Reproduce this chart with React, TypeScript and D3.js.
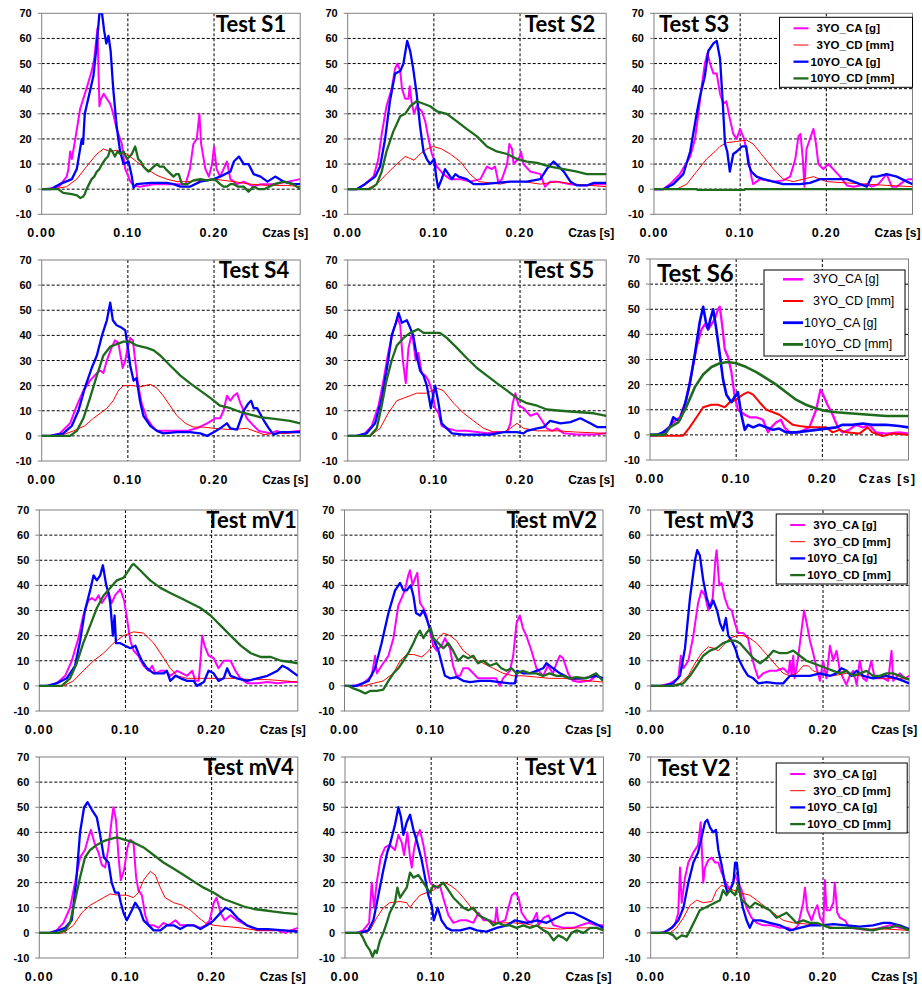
import React from 'react';
import * as d3 from 'd3';

type Pt = [number, number]; // [czas w ms, wartość]

// ---- Test S1 ----
const s1CA3: Pt[] = [[0,0],[15,0.5],[20,1],[29,5],[31,8],[33,15],[35,12],[39,20],[44.6,32],[52,40],[58,47],[61,52],[64.7,64],[67,33],[69,36],[72,38],[75.6,36],[79.5,34],[83,30],[87,24],[93,18],[97,8],[103,3],[106.6,1.5],[114,1],[130,2],[145,2],[161,2],[167,2],[172,8],[176,18],[180,20],[183,30],[185,18],[190,8],[194,5],[197.7,10],[200,17],[203,8],[207,5],[211,8],[215,11],[219,4],[226.7,2],[234.5,3],[240,2],[246,1],[254,2],[270,2],[286,3],[300,4]];
const s1CD3: Pt[] = [[0,0],[13.5,0],[29,1],[40.7,4],[52,9],[64,14],[71.7,16],[79.5,15],[87,15.5],[98.8,14],[110,11],[122,8],[133.7,5.5],[145,4],[157,3],[168.6,3],[184,3.5],[200,4],[223,3],[242,2],[262,1.5],[285,1.5],[300,1]];
const s1CA10: Pt[] = [[0,0],[10,0],[21,2],[35,4],[40.7,8],[46.5,20],[48,18],[50,30],[54,36],[60,45],[64,58],[67,70],[70,70],[72.5,63],[75,58],[77.5,61],[80,55],[83,40],[87,25],[91,15],[95,10],[100.8,11],[104.6,5],[106.6,0.5],[110,2],[126,2.5],[145,2.5],[153,2],[161,1],[172,1],[184,3],[199.6,4],[207,5],[219,7],[223,11],[229,13],[234.5,10],[240,10],[246,6],[254,5],[262,3],[271,5],[281,3],[292,2],[300,2]];
const s1CD10: Pt[] = [[0,0],[19,0],[25,-1.5],[35,-2],[41,-2.5],[44.6,-3.5],[48,-3],[50,-2],[52,0],[55,2],[58,4],[61,5],[64,7],[67,8],[70,10],[74,12],[77,13],[79.5,16],[82,15],[85,13],[88,15],[91,14],[95,15],[99,12],[102,13],[104.6,14],[108.5,17],[112,12],[115,11],[118,9],[121,8],[124,7],[127,8],[130,9],[133.7,10],[137,9],[141.5,9],[144,8],[147,7],[150,6],[153,5],[156,6],[159,6],[162.8,2],[168.6,2],[176,3.5],[184,4],[192,3.5],[200,4],[204,3],[207,2],[211,1],[215,1],[219,2],[223,2],[228,1],[234.5,1],[240,-1],[243,0],[246,1],[252,0],[258,0],[264,1],[270,2],[281,3],[292,2],[300,0]];

// ---- Test S2 ----
const s2CA3: Pt[] = [[0,0],[10.5,0],[20,2],[30,5],[35.6,12],[39.5,22],[45,33],[51,40],[55,48],[57.8,50],[61,47],[63,40],[66.7,36],[70.5,36],[72,41],[74,35],[77,30],[80,33],[86,31],[90,27],[93.8,20],[97.7,14],[103.5,9],[111,6],[119,4],[130.6,4],[142,3],[154,4],[161.6,9],[167,8],[171,9],[175,2.5],[179,4],[185,10],[187.6,18],[190.7,16],[192.6,10],[200,13],[201,15],[204,10],[212,7],[223.6,6],[229,1],[235,3],[243,3],[258,2],[274,1.5],[289,2],[300,2]];
const s2CD3: Pt[] = [[0,0],[22,0],[33.7,2],[45,6],[57,10],[66.7,13],[70.5,12.5],[77,11.5],[84,14],[91.8,16],[99.6,17],[109,16],[119,14],[130.6,11],[142,6],[152,3],[165.5,2.5],[177,2],[189,3],[204,3],[223.6,2],[243,3],[262,2],[281,1.5],[300,1]];
const s2CA10: Pt[] = [[0,0],[10.5,0],[20,2],[31.8,5],[37.6,9],[43.4,20],[49,35],[55,46],[61,47],[64.7,50],[69,59],[72.5,55],[76,48],[80,38],[84,25],[88,15],[91.8,12],[95.7,10],[100.4,12],[102.7,5],[105,0.5],[109,4],[113,8],[117,6],[120.9,4],[125,6],[128.7,5],[138,4],[146,2],[157.8,2],[173,2.5],[189,3],[208,3],[223.6,4],[231,8],[239,11],[245,9],[250.8,7],[258.5,3],[266,1.5],[278,1.5],[285.7,2.5],[300,2.5]];
const s2CD10: Pt[] = [[0,0],[26,0],[33.7,2],[39.5,7],[45,15],[53,23],[61,29],[66.7,30],[72.5,33],[80,35],[88,34],[95.7,33],[103.5,31],[115,30],[126.7,27],[138,24],[150,21],[161.6,17],[173,15],[185,14],[196.5,12],[208,11],[219.8,10.5],[235,9],[250.8,8],[266,7],[277.5,6],[300,6]];

// ---- Test S3 ----
const s3CA3: Pt[] = [[0,0],[10.8,0],[18.6,2],[30,6],[42,13],[47.6,20],[51.5,30],[55,40],[59,50],[62,54],[65,50],[69,46],[72.8,46],[76.6,38],[80.5,34],[84,35],[88,28],[92,22],[96,20],[99.9,24],[104.5,20],[109.6,12],[113,5],[115,2],[123,4],[138.6,3],[150,3.5],[158,5],[164,12],[167.6,21],[170,22],[172.7,12],[174.6,1],[177,16],[181,20],[185,24],[188,18],[190.8,10],[196.5,8],[202.5,10],[208,8],[216,5],[223.8,1.5],[231.5,1],[239,1.5],[247,2],[252.8,1],[260.5,2],[270,6],[276,1],[281.8,1],[289.6,3],[295.4,4],[300,4]];
const s3CD3: Pt[] = [[0,0],[26,0],[38,2],[49.5,7],[61,12],[70.8,15],[76.6,17],[84,18.5],[96,19],[107.6,19.5],[115,18],[127,13],[138.6,8],[150,4],[161.8,3],[173.4,4],[185,5],[200.5,3],[223.8,2.5],[247,2],[270,1.5],[300,1]];
const s3CA10: Pt[] = [[0,0],[10.8,0],[22.5,2],[34,6],[42,15],[49.5,30],[53.4,37],[59,45],[63,55],[69,58],[72.8,59],[76.6,52],[79.7,35],[82.4,18],[85,15],[88,7],[92,14],[96,15],[102,17],[107,17],[109.6,10],[113,7],[119,5],[127,4],[138.6,3],[150,2],[161.8,2],[169.6,2],[181,2.5],[193,4],[208,4],[223.8,4],[231.5,3],[239,2],[247,1],[252.8,5],[258.6,5],[270,6],[281.8,5],[293.5,3],[300,2]];
const s3CD10: Pt[] = [[0,0],[50,0],[50.5,-0.3],[105,-0.3],[105.5,0],[300,0]];

// ---- Test S4 ----
const s4CA3: Pt[] = [[0,0],[10,0],[21,1],[33,5],[40.7,12],[48.4,18],[56,22],[64,25],[68,26],[71.6,25],[75.6,30],[81,35],[85,38],[89,37],[91,33],[94,27],[97,30],[99.6,35],[102.7,39],[105.8,38],[108.5,30],[112,20],[116,13],[122,7],[128,4],[133.7,2],[141,2],[153,2],[168.6,2],[180,3],[192,5],[201.5,7],[207,7],[211,10],[215,16],[219,14],[223,16],[226.7,17],[230.6,13],[234.5,10],[238,7],[246,4],[252,2],[258,1.5],[265.5,1],[273,2],[281,1],[288,1.5],[300,2]];
const s4CD3: Pt[] = [[0,0],[21,0],[37,2],[50,4],[60,7],[68,9],[75.6,11],[83,14],[89,18],[95,20],[106.6,20],[114,19.5],[126,20.5],[133.7,19],[141,16],[149,12],[157,8],[166.7,5],[176,3.5],[188,3.5],[200,3],[219,2.5],[238,3],[250,1.5],[258,0.5],[269,1],[285,1],[300,1.5]];
const s4CA10: Pt[] = [[0,0],[10,0],[25,1],[35,4],[42.6,10],[50,19],[58,27],[64,32],[70,40],[75.6,46],[79.5,53],[82.6,46],[87,44],[93,43],[97,42],[100,35],[102.7,28],[106.6,22],[110,23],[114,14],[118,8],[126,4],[133.7,2],[141,1],[157,1.5],[172,1.5],[184,1],[192,0],[200,1.5],[207,3],[215,5],[219,3],[226.7,2.5],[234.5,10],[240,13],[243,14],[246,11],[250,11],[258,6],[263.6,3],[269,0.5],[277,1.5],[288,1.5],[300,1.5]];
const s4CD10: Pt[] = [[0,0],[33,0],[40.7,2],[48.4,7],[56,15],[64,24],[71.6,32],[79.5,35.5],[87,36.5],[95,37.5],[102.7,37.5],[110,36],[122,35],[130,34],[137.6,32],[149,28],[161,24],[172,21],[184,18],[196,15],[207,12],[219,11],[230.6,9.5],[242,8.5],[253,7.5],[265.5,7],[277,6.5],[288,6],[300,5]];

// ---- Test S5 ----
const s5CA3: Pt[] = [[0,0],[10.5,0],[20,1],[28,4],[35.7,12],[41.5,22],[47,33],[53,42],[57.8,47],[61,44],[64,30],[67.4,21],[70.5,35],[74,40],[76,38],[79,30],[82,33],[86,25],[90,24],[93.8,22],[97.7,18],[101.5,11],[105.4,9],[109,4],[115,3],[126.7,2],[138,2],[150,1.5],[161.6,1],[173,1.5],[185,1.5],[188.8,5],[191.5,13],[194.6,17],[198.4,12],[204,11],[212,8],[219.8,9],[225.6,6],[231,3],[237,2],[243,3],[250.8,1],[266,0.5],[285.7,0.5],[300,1]];
const s5CD3: Pt[] = [[0,0],[26,0],[37.6,3],[47,9],[57,14],[64.7,15],[72.5,16],[80,17],[91.8,17],[103.5,19],[111,18],[122.9,13],[134.5,9],[146,6],[157.8,3],[169.4,1.5],[181,1.5],[188.8,3],[196.5,5],[204,3],[219.8,2],[243,2],[266,1.5],[300,1]];
const s5CA10: Pt[] = [[0,0],[10.5,0],[22,1],[31.8,5],[39.5,15],[47,30],[51,40],[56,45],[59,49],[62.8,45],[68.6,46],[72.5,43],[76,40],[80,32],[84,26],[88,24],[91.8,20],[95,14],[96.5,11],[99.6,17],[101.5,20],[105.4,13],[109,5],[115,3],[121,1],[134.5,0.5],[150,0.5],[165.5,0.5],[181,1.5],[196.5,1.5],[204,1],[208,2],[219.8,3],[227.5,3.5],[235,6],[246.9,5],[258.5,5.5],[270,7],[281.4,5],[289.5,3.5],[300,3.5]];
const s5CD10: Pt[] = [[0,0],[26,0],[33.7,3],[39.5,12],[45,22],[51,30],[57,36],[64.7,39],[72.5,41],[82,42.5],[88,41],[95.7,41],[107,41],[115,39],[126.7,35],[138,31],[150,27],[161.6,24],[173,21],[185,18],[196.5,15],[208,13],[219.8,12],[231,10.5],[246.9,10],[266,9.5],[285.7,9],[300,8]];

// ---- Test S6 ----
const s6CA3: Pt[] = [[0,0],[11.6,0],[19,2],[27,5],[34.7,7],[42,14],[48,24],[54,35],[59.8,42],[63.6,44],[67.5,42],[71.3,44],[75,46],[79,50],[81,51],[84,43],[86.8,34],[90.6,31],[94.5,25],[98,16],[102,10],[106,9],[110,8],[115.7,7],[123.4,7],[131,6],[137,1],[140.8,3],[146.5,5],[152,6],[156,3],[162,1],[173.5,1],[185,3],[192.8,10],[197.8,18],[201,16],[206,12],[212,8],[218,3],[223.6,1],[231,2],[239,4],[247,3],[254.5,4],[262,1],[274,0.5],[289,1],[300,0.5]];
const s6CD3: Pt[] = [[0,-0.3],[38.6,-0.3],[46,3],[54,7],[61.7,11],[71.3,12],[79,12],[86.8,11],[92.5,13],[100,14],[107.6,16],[113.8,17],[119.6,16],[127,13],[135,10],[142.8,9],[150,8],[158,6],[165.8,4],[173.5,3.5],[185,3],[196.6,3],[204.4,3],[212,1],[219.8,2],[227.5,1],[243,0.5],[252.6,3],[258,1],[270,-0.5],[281.5,0.5],[300,0]];
const s6CA10: Pt[] = [[0,0],[7.7,0],[15,1],[23,3],[27,7],[31,6],[34.7,6],[40.5,12],[46,20],[52,32],[57.8,45],[61.7,51],[64.8,45],[67.5,42],[70,46],[73.3,50],[77,42],[81,32],[84.8,22],[88.7,16],[94.5,13],[98,15],[102,17],[106,8],[110,2],[113.8,4],[119.6,3],[127,4],[135,3],[142.8,2],[150,2.5],[158,1],[169.5,1],[181,1.5],[192.8,2],[204.4,2.5],[216,3],[223.6,4],[235,4],[246.8,4.5],[258,4],[274,4],[289,3.5],[300,3]];
const s6CD10: Pt[] = [[0,0],[17,0],[23,3],[32.8,5],[42,11],[52,19],[61.7,24],[71.3,27],[81,28.5],[90.6,29],[100,28.5],[111.8,27],[123.4,25],[135,22.5],[146.5,20],[158,17],[169.5,14],[181,12],[192.8,10.5],[204.4,9.5],[216,9],[235,8.5],[254.5,8],[274,7.5],[300,7.5]];

// ---- Test mV1 ----
const m1CA3: Pt[] = [[0,0],[12.4,0],[22,1.5],[30,4],[37.7,10],[45.4,19],[51,28],[57,34],[61,35],[65,34],[68.7,36],[72.6,33],[76.5,35],[80.4,37],[84,33],[88,36],[94,38.5],[98.4,34],[101.7,27],[105.6,18],[109.5,14],[115,12],[121,8],[127,6],[131,8],[134.8,5],[140.6,6],[146.4,6],[152,4],[160,6],[165.8,5],[171.6,4],[177.5,6],[181,2],[185,2],[187,10],[189,20],[191.8,16],[196.5,12],[202.3,11],[208,7],[214,10],[222,10],[227.6,6],[233.4,3],[241.5,1],[253,1],[264.8,1.5],[276.5,1],[288,1.5],[300,1.5]];
const m1CD3: Pt[] = [[0,0],[28,0],[39.6,2],[51,6],[63,10],[74.6,13],[86,17],[97.7,20],[109.5,21.5],[121,21],[132.8,17],[144.5,11],[152,7],[160,4],[171.6,3],[187,3],[206,3],[226,3],[245.4,2.5],[264.8,2.5],[284.5,2],[300,1.5]];
const m1CA10: Pt[] = [[0,0],[8.5,0],[20,1],[31.8,3],[35.7,5],[41.5,8],[47.4,18],[53,30],[59,38],[63,44],[66.8,42],[70.7,44],[73.8,48],[77.7,40],[80.4,37],[82.3,33],[85.4,20],[87.4,28],[89,17],[94,17],[99.6,16],[105.6,15],[111.5,16],[115,13],[119,10],[125,7],[132.8,5],[144.5,5],[148,6],[152,2],[158,4],[164,3],[171.6,2],[179,2],[183,0],[191,1.5],[196.5,6],[202.3,5],[208,2],[214,3],[218,7],[222,4],[229.5,3],[241.5,2],[253,3],[264.8,4],[276.5,6],[282,8],[288,7],[296,5],[300,4]];
const m1CD10: Pt[] = [[0,0],[26,0],[35.7,3],[43.5,9],[51,17],[59,24],[66.8,31],[74.6,36],[82.3,39],[90,42],[97.7,43],[101.7,45],[107.4,48],[109.5,48.5],[117,46],[128.7,42],[140.6,39],[152,37],[164,35],[175.5,33],[187,31],[198.8,28],[210.5,24],[222,20],[233.8,16],[245.4,13],[257,11.5],[268.7,11.5],[280.6,10],[292,9.5],[300,9]];

// ---- Test mV2 ----
const m2CA3: Pt[] = [[0,0],[10,0],[22,1],[31.6,4],[35.5,12],[37.5,5],[43,8],[51,12],[56.8,19],[62.5,32],[66.4,35],[70,38],[74,44],[76,46],[79,40],[82,43],[84.5,45],[87.6,33],[91.5,31],[95,28],[99,22],[103,16],[107,14],[112.7,16],[116.6,19],[122.4,15],[126,8],[130,4],[134,4],[137.8,7],[143.6,7],[149.4,5],[155,3],[164.9,3],[176,3],[180,0],[184,3],[192,6],[195.8,12],[199.6,25],[203.5,28],[207,23],[211,20],[217,14],[222.8,7],[230.5,4],[236,8],[242,5],[246,9],[250,12],[253.7,11],[259.5,5],[265,2],[273,1.5],[284.5,2],[292,4],[300,3]];
const m2CD3: Pt[] = [[0,0],[22,0],[33.6,1],[45,2],[56.8,5],[64.5,10],[72,12.5],[80,12.5],[89.6,11.5],[95,13],[103,16],[109,19],[114.7,21],[122.4,20],[130,18],[137.8,14],[149.4,11],[161,9],[172.6,7],[184,5],[195.8,4],[207,4],[222.8,3.5],[238,3],[253.7,3],[269,2.5],[284.5,2],[300,1.5]];
const m2CA10: Pt[] = [[0,0],[14,0],[27.8,2],[35.5,7],[43,17],[51,29],[58.7,38],[64.5,41],[68.3,38],[72,38],[76.8,40],[79.9,36],[83,29],[87.6,28],[91.5,30],[95,27],[99,23],[103,19],[109,14],[112.7,9],[116.6,4],[122.4,3],[130,3.5],[137.8,2],[145.5,1.5],[157,2],[168.7,2],[180,1.5],[192,1],[197.7,1],[200.4,6],[207,5],[215,5],[222.8,6],[230.5,7],[234.4,9],[242,7],[250,5],[261,3],[277,3],[292,4],[300,3]];
const m2CD10: Pt[] = [[0,0],[4.6,0],[10.4,-1],[18,-2],[24,-3],[29.7,-2],[37.5,-2],[45,-1.5],[51,2],[56.8,5],[62.5,7],[68.3,10],[74,13],[79.9,17],[83.8,20],[87.6,22],[91.5,19],[95,21],[100,23],[103,19],[109,17],[114.7,15],[120.5,17],[126,14],[132,10],[137.8,12],[143.6,11],[149.4,12],[155,9],[161,10],[168.7,8],[176.4,9],[182,7],[188,6],[193.8,7],[199.6,5],[207,6],[215,5],[222.8,5],[230.5,4],[238,5],[246,4],[253.7,4],[261,3],[269,3.5],[280.7,3],[292,5],[300,2]];

// ---- Test mV3 ----
const m3CA3: Pt[] = [[0,0],[10.8,0],[22.4,1],[32,3],[35,12],[38,7],[43.7,10],[49.5,20],[55,33],[59,38],[63,36],[67,30],[72,35],[75,50],[76.5,54],[79.6,40],[82.3,41],[86,35],[90,31],[94,30],[97.7,25],[101.6,21],[107.5,21],[113,19],[117,12],[121,7],[125,3],[130.6,5],[138,6],[146,6],[153.8,7],[160,5],[161.6,10],[163.5,4],[165.4,12],[167,3],[171,11],[175,22],[178,30],[181,25],[184.8,18],[188.6,13],[192.5,7],[196.4,2],[200,10],[204,3],[208,16],[211.8,10],[215.7,14],[219.6,6],[223.5,3],[227,0.5],[231,4],[235,6],[239,0.5],[242.7,10],[246.6,3],[250.5,2],[256,10],[260,3],[270,3],[275.6,2],[279.5,14],[281.4,2],[289,5],[295,3],[300,4]];
const m3CD3: Pt[] = [[0,0],[22.4,0],[34,1],[43.7,4],[51.4,9],[59,13],[67,15.5],[72.6,15],[78.4,14],[84,16],[92,19],[100,20],[107.5,20],[115,19],[123,17],[130.6,14],[138.4,11],[146,8],[153.8,5],[161.6,4],[169.4,5],[177,8],[183,8],[188.6,6],[196.4,5],[211.8,4],[227.3,5],[243,4],[258,3],[273.6,3],[289,3],[300,2.5]];
const m3CA10: Pt[] = [[0,0],[14.7,0],[26,1],[34,4],[39.8,15],[45.6,35],[51.4,50],[54,54],[57,52],[61,42],[65,35],[68.8,31],[72.6,34],[77,30],[80.4,25],[84,22],[87.3,27],[90,20],[94,18],[98,15],[101.6,11],[107.5,7],[113,4],[119,3],[125,1],[134.6,1.5],[146,1],[153.8,1],[161.6,4],[173,4],[184.8,4],[196.4,5],[208,4],[215.7,5],[221.5,7],[227.3,6],[233,4],[239,6],[246.6,4],[258,3],[273.6,4],[285,3],[293,2],[300,1]];
const m3CD10: Pt[] = [[0,0],[26,0],[38,1],[45.6,4],[53.4,8],[61,12],[68.8,14],[76.5,15],[84,17],[92,18],[98,18],[103.6,17],[111.4,14],[119,11],[127,9],[134.6,11],[142.4,14],[150,13],[157.7,13],[165.4,14],[173,12],[180.8,10],[188.6,9],[196.4,8],[204,7],[211.8,6],[219.6,5],[227.3,6],[235,4],[242.7,5],[250.5,6],[258,4],[265.8,4],[273.6,5],[281.4,5],[289,4],[300,2.5]];

// ---- Test mV4 ----
const m4CA3: Pt[] = [[0,0],[12.4,0],[20,1],[28,4],[35.7,10],[41.5,20],[47.3,30],[53,33],[57,38],[59.8,41],[64.8,35],[68.7,32],[72.6,27],[76.4,26],[80.3,34],[84,45],[86,50],[89,45],[92,30],[94.6,21],[98.4,25],[102.3,34],[105.4,37],[109.3,36],[112.4,22],[115,17],[119,15],[123,7],[127,3],[132.7,3],[138.5,2],[144,4],[150,3],[158,5],[163.7,3],[171.5,3],[179,3],[187,2],[192.8,3],[197.7,5],[202.5,12],[205.7,14],[210.4,8],[215,5],[222,7],[229.7,5],[241,3],[253,1],[264.6,1],[276.3,1],[286,0],[292,1],[300,2]];
const m4CD3: Pt[] = [[0,0],[28,0],[39.6,3],[49.3,8],[59,11],[66.7,12.5],[74.5,14],[82,15.5],[92,15],[101.6,15],[109.3,14],[115,16],[121,21],[128.8,24.5],[134.6,23],[140.5,18],[146,14],[156,12],[166,11],[175.6,9],[185,6],[192.8,4],[202.5,3],[218,2.5],[233.6,2],[253,1],[276.3,1],[300,1]];
const m4CA10: Pt[] = [[0,0],[12.4,0],[22,1],[30,2],[37.6,5],[42.7,20],[47.3,40],[52,50],[56,52],[61,49],[66.7,46],[70.6,39],[75,30],[80.3,28],[84,20],[88,16],[92,16],[94.6,12],[97.7,8],[101.6,5],[107.4,9],[111.3,12],[117,9],[121,5],[127,3],[132.7,1],[140.5,1],[148,3],[156,3],[163.7,1.5],[171.5,3],[179,3],[187,1.5],[194.6,3],[202.5,5],[210.4,8],[216,10],[222,9],[229.7,6],[241,3],[253,1.5],[264.6,1.5],[284,1],[300,0.5]];
const m4CD10: Pt[] = [[0,0],[22,0],[30,1],[35.7,4],[41.5,13],[47.3,22],[53,30],[59,33],[66.7,35],[74.5,36.5],[84,37.5],[90,38],[99.6,37],[109.3,36],[121,34],[132.7,31],[144,28],[156,25.5],[167.6,23],[179,20.5],[190.7,18],[202.5,16],[214,13.5],[225.8,12],[237.4,10.5],[249,9.5],[260.8,9],[272.4,8.5],[284,8],[300,7.5]];

// ---- Test V1 ----
const v1CA3: Pt[] = [[0,0],[13.5,0],[21,1],[28,4],[31,20],[33.7,10],[36.8,20],[41.4,30],[46.5,34],[52,35],[58,33],[62,39],[65.8,36],[68.6,31],[72.4,40],[75.5,30],[77.5,26],[80,33],[83,38],[87,41],[91,35],[95,27],[98.7,20],[104.5,18],[110,19],[114,14],[120,7],[125.8,4],[133.6,5],[141,5],[149,4],[155,8],[160.7,5],[168.4,5],[174,4],[176,10],[178,4],[186,5],[189.7,10],[193.6,15],[197.5,16],[201.4,14],[205,8],[211,5],[216.8,4],[222.6,8],[224.5,3],[230.4,6],[236,7],[242,3],[253.6,2],[265,2],[273,3],[282.6,4],[292,3],[300,3]];
const v1CD3: Pt[] = [[0,0],[21,0],[29,1],[36.8,6],[44.5,10],[52,12],[63.9,12.5],[71.6,12],[75.5,10],[79.4,12],[87,15],[94.6,16],[102.6,17],[110,19],[116,20],[121.9,19],[129.7,17],[137.4,14],[149,9],[160.7,6],[172.3,4],[184,4],[195.5,4],[211,3.5],[230.4,2],[250,1.5],[269,2],[284.5,2],[300,1.5]];
const v1CA10: Pt[] = [[0,0],[17.4,0],[27,1],[33,5],[38.7,15],[44.5,25],[49,32],[52,35],[58,43],[62,50],[65,46],[67.7,39],[71.6,44],[75.5,47],[79.4,41],[83,37],[89,29],[92.9,22],[96.7,15],[100.6,11],[103,5],[107.6,10],[112,5],[118,2],[124,1],[133.6,1],[145,2],[153,1],[164.5,0.5],[176,2],[187.8,3],[197.5,5],[211,4],[222.6,5],[234,4],[245.8,6],[257.4,8],[265,8],[276.8,6],[288.4,4],[300,2]];
const v1CD10: Pt[] = [[0,0],[17.4,0],[21,-2],[25,-5],[29,-7],[32,-9.5],[34.8,-7],[36.8,-8],[40.6,-3],[44.5,0],[48.4,4],[52,8],[58,12],[60.8,18],[63.9,14],[67.7,16],[71.6,18],[75.5,24],[79.4,22],[85.2,23],[91,20],[94.6,18],[98.7,16],[102.6,19],[108,18],[114,20],[120,17],[125.8,14],[131.6,12],[137.4,10],[143,9],[149,10],[155,7],[160.7,6],[166.5,5],[172.3,3],[178,4],[184,3],[191.6,3],[199,2],[207,3],[214.7,2],[222.6,3],[230.4,1],[236,0],[242,-3],[247.7,-1],[253.6,-2],[257.4,-3],[263,0],[269,1],[276.8,0],[284.5,2],[292,2],[300,1]];

// ---- Test V2 ----
const v2CA3: Pt[] = [[0,0],[10.8,0],[20.5,1],[28,3],[32,8],[34,26],[36,12],[39.8,22],[43.7,28],[49.5,32],[55,35],[58,44],[61,20],[63,26],[67,29],[70.8,30],[74.6,28],[78.5,28],[82.3,24],[87.3,20],[92,17],[98,23],[101.7,20],[105.6,17],[111.3,10],[117,6],[123,4],[130.6,3],[140,3],[150,2],[159.6,2],[165.4,1],[171,3],[177,12],[179,18],[181.7,9],[186.7,5],[190.6,9],[193.4,11],[196.5,6],[200.4,4],[202.2,21],[204,9],[208,9],[212,12],[213.6,20],[216.5,8],[219.6,6],[225.3,5],[231,2],[242.7,1.5],[254,1],[266,2],[277.5,3],[289,2],[300,1.5]];
const v2CD3: Pt[] = [[0,0],[22.4,0],[30,2],[38,6],[45.6,11],[53.4,13],[61,12],[70.8,12.5],[76.5,17],[82.3,19],[88,18],[96,17],[103.6,16],[115,15],[123,13],[130.6,11],[142,8],[153.8,5],[165.4,4],[181,3.5],[196.5,3],[215.6,2],[235,2],[254,1.5],[274,1.5],[300,1]];
const v2CA10: Pt[] = [[0,0],[14.7,0],[24.4,2],[32,5],[38,10],[43.7,20],[49.5,28],[55,32],[59,38],[63,44],[65.7,45],[68.8,42],[72.6,40],[75.7,41],[78.5,33],[82.3,27],[86,20],[89,16],[92,17],[96,20],[98,28],[100,28],[103,17],[107,10],[111.3,5],[115,2],[119,5],[127,5],[138.4,4],[150,3],[161.6,1],[173,2],[185,3],[196.5,3],[212,3.5],[227,3],[242.7,2.5],[258,3],[270,4],[277.5,4],[289,3],[300,1.5]];
const v2CD10: Pt[] = [[0,0],[20.5,0],[26.3,-1],[30,-2.5],[36,-1],[41.7,-1.5],[45.6,1],[51.4,5],[57,9],[63,10],[68.8,11],[74.6,12],[80.4,13],[84,17],[88,15],[92,17],[98,15],[101.6,19],[105.6,13],[109.5,12],[115,10],[121,12],[127,11],[132.6,10],[138.4,9],[146,6],[152,7],[157.7,8],[163.5,6],[169,4],[177,5],[184.8,4],[192.5,4],[200.4,3],[208,2],[219.6,2],[235,2],[246.6,1.5],[258,1],[270,2],[277.5,2],[285.4,3],[293,2],[300,1]];

const seriesNames = ['3YO_CA [g]', '3YO_CD [mm]', '10YO_CA [g]', '10YO_CD [mm]'];
const titles = ['Test S1', 'Test S2', 'Test S3', 'Test S4', 'Test S5', 'Test S6', 'Test mV1', 'Test mV2', 'Test mV3', 'Test mV4', 'Test V1', 'Test V2'];
const panelData: Pt[][][] = [
  [s1CA3, s1CD3, s1CA10, s1CD10],
  [s2CA3, s2CD3, s2CA10, s2CD10],
  [s3CA3, s3CD3, s3CA10, s3CD10],
  [s4CA3, s4CD3, s4CA10, s4CD10],
  [s5CA3, s5CD3, s5CA10, s5CD10],
  [s6CA3, s6CD3, s6CA10, s6CD10],
  [m1CA3, m1CD3, m1CA10, m1CD10],
  [m2CA3, m2CD3, m2CA10, m2CD10],
  [m3CA3, m3CD3, m3CA10, m3CD10],
  [m4CA3, m4CD3, m4CA10, m4CD10],
  [v1CA3, v1CD3, v1CA10, v1CD10],
  [v2CA3, v2CD3, v2CA10, v2CD10],
];
const xTicks = [0, 100, 200];
const yTicks = [-10, 0, 10, 20, 30, 40, 50, 60, 70];

// layout (pixels)
const PW = 258.5;
const PH = 201;
const origins: [number, number][] = [
  [41.7, 13.3], [347.7, 13.3], [654, 13.3],
  [41.7, 260], [347.7, 260], [650, 259],
  [39.3, 510], [344.5, 510], [650.7, 510],
  [39.3, 757], [345, 757], [650.7, 757],
];
// title: anchor 'end' offset from right edge, or 'start' offset from left
const titlePos: [string, number, number][] = [
  ['end', 14, 19], ['end', 11, 19], ['start', 5, 19],
  ['end', 11, 18], ['end', 12, 18], ['start', 7, 23],
  ['end', 1, 18], ['end', 6, 18], ['start', 13, 18],
  ['end', 4, 18], ['end', 6, 18], ['start', 7, 19],
];

const colors = ['#FF00FF', '#FF0000', '#0000FF', '#1E6B1E'];
const widths = [2, 1, 2.3, 2.3];
const FONT = 'Arial, "Liberation Sans", sans-serif';

const Legend = ({ big, x0, y0, w }: { big: boolean; x0: number; y0: number; w: number }) => {
  const h = big ? 86 : 70;
  const step = big ? 21.7 : 16.7;
  const first = big ? 9.3 : 11;
  return (
    <g>
      <rect x={x0} y={y0} width={w} height={h} fill="#fff" stroke="#000" strokeWidth={1} />
      {seriesNames.map((n, k) => {
        const cy = y0 + first + step * k;
        const lx0 = x0 + (big ? 19 : 14);
        const lx1 = x0 + (big ? 39 : 29);
        const tx = x0 + (k < 2 ? (big ? 49 : 37) : (big ? 40 : 31));
        return (
          <g key={n}>
            <line x1={lx0} x2={lx1} y1={cy} y2={cy} stroke={colors[k]} strokeWidth={big && k === 1 ? 2 : widths[k] + (big ? 0.5 : 0)} />
            <text x={tx} y={cy + 4} fontSize={big ? 12.5 : 11.5} fontWeight={big ? 'normal' : 'bold'} fontFamily={FONT} fill="#000">{n}</text>
          </g>
        );
      })}
    </g>
  );
};

const Panel = ({ idx }: { idx: number }) => {
  const [left, top] = origins[idx];
  const x = d3.scaleLinear().domain([0, 300]).range([left, left + PW]);
  const y = d3.scaleLinear().domain([-10, 70]).range([top + PH, top]);
  const line = d3.line<Pt>().x((d) => x(d[0])).y((d) => y(d[1]));
  const fmt = d3.format('.2f');
  const [anchor, off, base] = titlePos[idx];
  const big = idx === 5;
  const clipId = `clip${idx}`;
  return (
    <g>
      <clipPath id={clipId}>
        <rect x={left} y={top} width={PW} height={PH} />
      </clipPath>
      {yTicks.slice(1, -1).map((v) => (
        <line key={v} x1={left} x2={left + PW} y1={y(v)} y2={y(v)} stroke="#000" strokeWidth={1} strokeDasharray="3,2" />
      ))}
      {xTicks.slice(1).map((t) => (
        <line key={t} x1={x(t)} x2={x(t)} y1={top} y2={top + PH} stroke="#000" strokeWidth={1} strokeDasharray="3,2" />
      ))}
      <rect x={left} y={top} width={PW} height={PH} fill="none" stroke="#808080" strokeWidth={1} />
      {yTicks.map((v) => (
        <g key={v}>
          <line x1={left - 4} x2={left} y1={y(v)} y2={y(v)} stroke="#808080" />
          <text x={left - 10} y={y(v) + 4} textAnchor="end" fontSize={11} fontWeight="bold" fontFamily={FONT}>{v}</text>
        </g>
      ))}
      {xTicks.map((t) => (
        <text key={t} x={x(t)} y={top + PH + 23} textAnchor="middle" fontSize={12.5} fontWeight="bold" letterSpacing={1.2} fontFamily={FONT}>{fmt(t / 1000)}</text>
      ))}
      <text x={x(300) + 8} y={top + PH + 23} textAnchor="end" fontSize={12} fontWeight="bold" letterSpacing={big ? 1.5 : 0} fontFamily={FONT}>Czas [s]</text>
      <g clipPath={`url(#${clipId})`}>
        {panelData[idx].map((s, k) => (
          <path key={k} d={line(s) || ''} fill="none" stroke={colors[k]} strokeWidth={big ? (k === 1 ? 2 : widths[k] + 0.3) : widths[k]} strokeLinejoin="round" />
        ))}
      </g>
      <text
        x={anchor === 'end' ? left + PW - off : left + off}
        y={top + base}
        textAnchor={anchor}
        fontSize={big ? 24 : 22}
        fontWeight="bold"
        fontFamily='Lato, "Open Sans", sans-serif'
      >
        {titles[idx]}
      </text>
      {idx % 3 === 2 && (
        big
          ? <Legend big x0={left + 114} y0={top + 11} w={141} />
          : <Legend big={false} x0={left + PW - 133} y0={top + (idx === 2 ? 4 : idx === 8 ? 4 : 6)} w={idx === 2 ? 133 : 131} />
      )}
    </g>
  );
};

export default function App() {
  return (
    <svg width={922} height={988} style={{ position: 'absolute', left: 0, top: 0, background: '#fff' }}>
      <rect width={922} height={988} fill="#fff" />
      {titles.map((_, i) => (
        <Panel key={i} idx={i} />
      ))}
    </svg>
  );
}
